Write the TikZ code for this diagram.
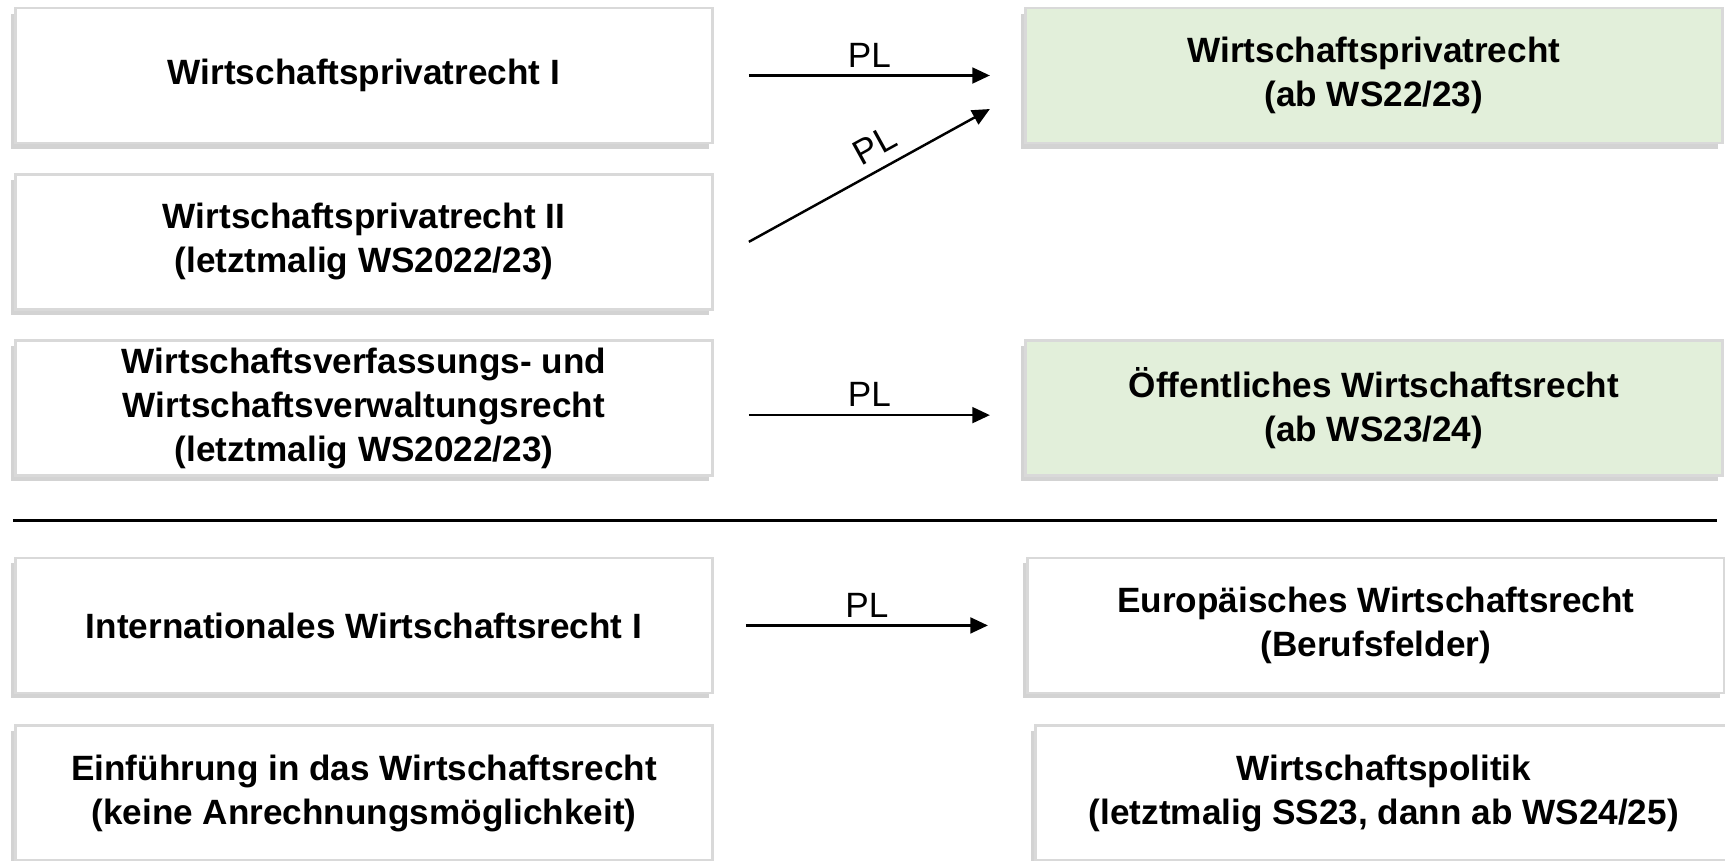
\documentclass[tikz,border=0pt]{standalone}
\usepackage{fontspec}
\setmainfont{Liberation Sans}
\usetikzlibrary{shapes,arrows.meta,positioning,shadows}
\definecolor{boxline}{HTML}{D9D9D9}
\definecolor{newgreen}{HTML}{E2EFDA}

\begin{document}
\begin{tikzpicture}[
    node distance=0.6cm,
    oldbox/.style={rectangle, draw=boxline, line width=1.6pt, fill=white, minimum width=13.94cm, minimum height=2.7cm, align=center, font=\bfseries\fontsize{20}{25}\selectfont, drop shadow={shadow xshift=-0.08cm, shadow yshift=-0.11cm, opacity=0.35}},
    newbox/.style={oldbox, fill=newgreen},
    arrow/.style={-{Triangle[length=10pt,width=9pt]}, line width=1.4pt},
    pllabel/.style={font=\fontsize{20}{24}\selectfont, inner sep=4pt},
    sepline/.style={line width=1.7pt}
]
\useasboundingbox (0,0) rectangle (34.5,-17.2);

% Old modules (left)
\node[oldbox] (wpr1) at (7.28,-1.51) {Wirtschaftsprivatrecht I};

\node[oldbox, below=0.57cm of wpr1] (wpr2) {
    Wirtschaftsprivatrecht II\\
    (letztmalig WS2022/23)
};

\node[oldbox, below=0.57cm of wpr2] (wvr) {
    Wirtschaftsverfassungs- und\\
    Wirtschaftsverwaltungsrecht\\
    (letztmalig WS2022/23)
};

\node[oldbox, below=1.59cm of wvr] (iwr) {Internationales Wirtschaftsrecht I};

\node[oldbox, below=0.6cm of iwr] (einf) {
    Einführung in das Wirtschaftsrecht\\
    (keine Anrechnungsmöglichkeit)
};

% New modules (right)
\node[newbox, right=6.2cm of wpr1] (wpr) {
    Wirtschaftsprivatrecht\\
    (ab WS22/23)
};

\node[newbox, right=6.2cm of wvr] (oewr) {
    Öffentliches Wirtschaftsrecht\\
    (ab WS23/24)
};

\node[oldbox, right=6.24cm of iwr] (ewr) {
    Europäisches Wirtschaftsrecht\\
    (Berufsfelder)
};

\node[oldbox, right=6.4cm of einf] (wpol) {
    Wirtschaftspolitik\\
    (letztmalig SS23, dann ab WS24/25)
};

% Separator
\draw[sepline] (0.26,-10.41) -- (34.34,-10.41);

% Arrows
\draw[arrow] ([xshift=0.7cm]wpr1.east) -- ([xshift=-0.68cm]wpr.west)
    node[midway, above, pllabel] {PL};
\draw[arrow] ([xshift=0.7cm]wpr2.east) -- ([xshift=-0.68cm, yshift=-0.67cm]wpr.west)
    node[pos=0.57, above, sloped, pllabel, inner sep=6pt] {PL};
\draw[arrow] ([xshift=0.7cm, yshift=-0.14cm]wvr.east) -- ([xshift=-0.68cm, yshift=-0.14cm]oewr.west)
    node[midway, above, pllabel] {PL};
\draw[arrow] ([xshift=0.64cm]iwr.east) -- ([xshift=-0.76cm]ewr.west)
    node[midway, above, pllabel] {PL};

\end{tikzpicture}
\end{document}
